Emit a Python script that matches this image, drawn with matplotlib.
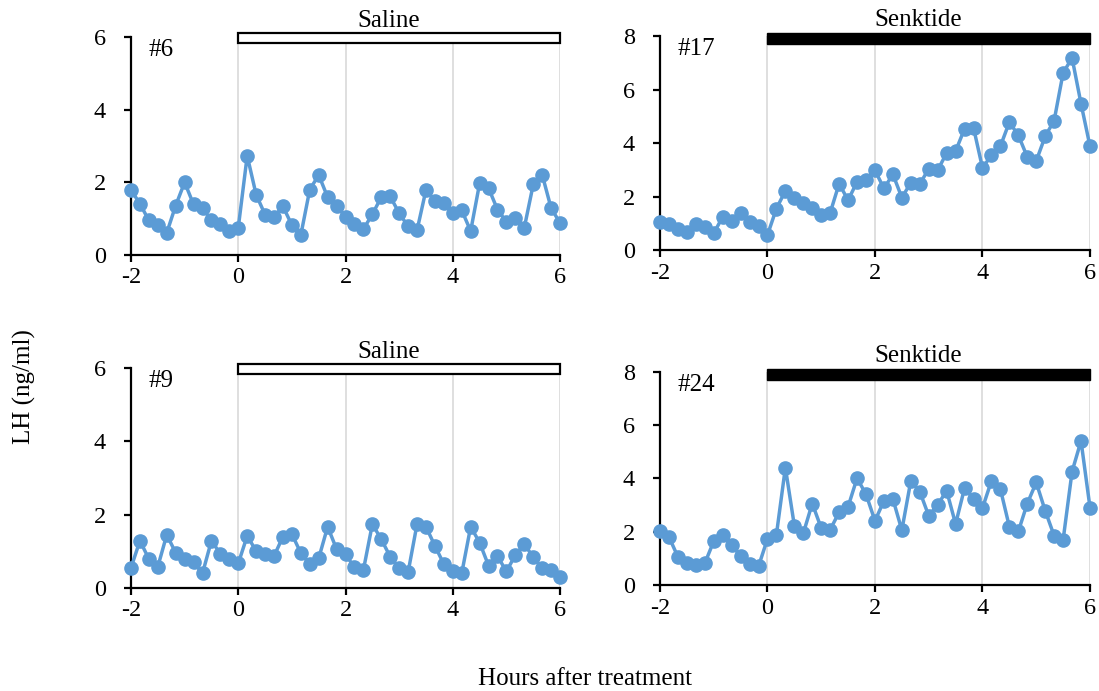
import numpy as np
import matplotlib
matplotlib.use('Agg')
import matplotlib.pyplot as plt
from matplotlib.patches import Rectangle

plt.rcParams['font.family'] = ['Liberation Serif', 'DejaVu Serif']
plt.rcParams['axes.unicode_minus'] = False

# Thời gian (giờ), lấy mẫu mỗi 10 phút từ -2 đến 6
hours = np.arange(49) / 6 - 2

lh_6 = [1.79, 1.41, 0.95, 0.82, 0.61, 1.36, 2.00, 1.39, 1.29, 0.95, 0.84, 0.65, 0.75,
        2.73, 1.66, 1.11, 1.05, 1.34, 0.82, 0.55, 1.80, 2.20, 1.59, 1.34, 1.05,
        0.86, 0.71, 1.12, 1.59, 1.61, 1.15, 0.79, 0.68, 1.79, 1.48, 1.43, 1.15,
        1.23, 0.66, 1.97, 1.84, 1.25, 0.91, 1.03, 0.75, 1.94, 2.21, 1.29, 0.88]

lh_17 = [1.06, 0.97, 0.77, 0.68, 0.96, 0.87, 0.62, 1.24, 1.08, 1.40, 1.06, 0.91, 0.56,
         1.55, 2.21, 1.96, 1.76, 1.58, 1.30, 1.39, 2.48, 1.86, 2.55, 2.63, 2.98,
         2.30, 2.83, 1.96, 2.51, 2.46, 3.04, 2.98, 3.63, 3.70, 4.53, 4.57, 3.07,
         3.54, 3.88, 4.78, 4.29, 3.48, 3.33, 4.25, 4.84, 6.62, 7.18, 5.47, 3.88]

lh_9 = [0.55, 1.29, 0.79, 0.58, 1.45, 0.96, 0.79, 0.70, 0.40, 1.29, 0.93, 0.78, 0.67,
        1.42, 1.01, 0.93, 0.87, 1.40, 1.47, 0.95, 0.65, 0.81, 1.67, 1.06, 0.92,
        0.56, 0.49, 1.74, 1.33, 0.85, 0.54, 0.43, 1.74, 1.67, 1.15, 0.65, 0.45,
        0.40, 1.67, 1.24, 0.61, 0.87, 0.45, 0.90, 1.20, 0.84, 0.54, 0.49, 0.31]

lh_24 = [2.04, 1.81, 1.06, 0.83, 0.75, 0.81, 1.64, 1.89, 1.51, 1.08, 0.79, 0.70, 1.73,
         1.89, 4.41, 2.23, 1.94, 3.06, 2.14, 2.08, 2.73, 2.94, 4.01, 3.41, 2.41,
         3.16, 3.23, 2.06, 3.91, 3.51, 2.60, 3.01, 3.54, 2.29, 3.64, 3.23, 2.89,
         3.91, 3.60, 2.19, 2.01, 3.06, 3.85, 2.79, 1.85, 1.69, 4.26, 5.41, 2.91]

panels = [
    ('#6', 'Saline', lh_6, 6, [0.1192, 0.6310, 0.3904, 0.3155]),
    ('#17', 'Senktide', lh_17, 8, [0.6005, 0.6382, 0.3913, 0.3097]),
    ('#9', 'Saline', lh_9, 6, [0.1192, 0.1491, 0.3904, 0.3183]),
    ('#24', 'Senktide', lh_24, 8, [0.6005, 0.1534, 0.3913, 0.3083]),
]

fig = plt.figure(figsize=(10.99, 6.91), dpi=100)

for name, treat, values, ymax, pos in panels:
    ax = fig.add_axes(pos)
    ax.plot(hours, values, color='#5B9BD5', linewidth=2.5, marker='o',
            markersize=9.5, clip_on=False, zorder=3)
    ax.set_xlim(-2, 6)
    ax.set_ylim(0, ymax)
    ax.set_xticks([-2, 0, 2, 4, 6])
    ax.set_yticks(np.arange(0, ymax + 1, 2))
    for gx in [0, 2, 4, 6]:
        ax.axvline(gx, color='#D9D9D9', linewidth=1.2, zorder=0)
    for side in ['top', 'right']:
        ax.spines[side].set_visible(False)
    for side in ['left', 'bottom']:
        ax.spines[side].set_linewidth(1.6)
    ax.tick_params(direction='out', length=5, width=1.6, labelsize=17.5)
    ax.tick_params(axis='y', pad=13)
    ax.tick_params(axis='x', pad=4)

    # Thanh thời gian điều trị
    if treat == 'Saline':
        bar = Rectangle((0, ymax - 0.17), 6, 0.28, facecolor='white',
                        edgecolor='black', linewidth=1.6, clip_on=False, zorder=4)
    else:
        bar = Rectangle((0, ymax - 0.3), 6, 0.4, facecolor='black',
                        edgecolor='black', linewidth=1.0, clip_on=False, zorder=4)
    ax.add_patch(bar)
    ax.text(2.8, ymax * 1.025, treat, ha='center', va='bottom', fontsize=18)
    ax.text(0.04, 0.94, name, transform=ax.transAxes, ha='left', va='center',
            fontsize=18)

fig.text(0.022, 0.44, 'LH (ng/ml)', rotation=90, ha='center', va='center', fontsize=18)
fig.text(0.532, 0.018, 'Hours after treatment', ha='center', va='center', fontsize=18)

fig.savefig('out.png', dpi=100)
